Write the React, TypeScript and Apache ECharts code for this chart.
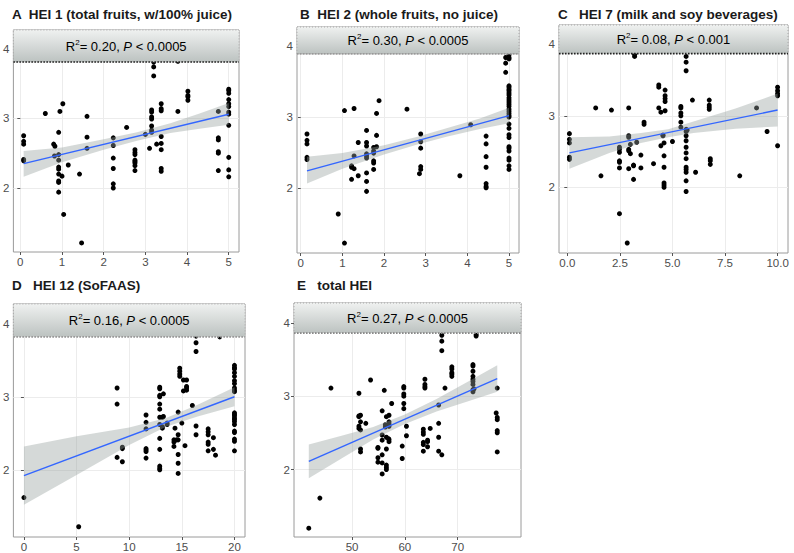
import React, { useEffect, useRef } from 'react';
import * as echarts from 'echarts';

const FONT = '"Liberation Sans", Arial, Helvetica, sans-serif';

// ---------- Panel A: HEI 1 ----------
const hei1Points: number[][] = [
  [0.08, 2.75], [0.08, 2.67], [0.08, 2.63], [0.08, 2.41], [0.08, 2.39],
  [0.6, 3.07],
  [0.8, 2.63], [0.83, 2.6], [0.82, 2.46],
  [0.92, 2.8], [0.92, 2.48], [0.92, 2.4], [0.92, 2.3], [0.92, 2.27], [0.92, 2.2], [0.92, 2.1], [0.92, 2.08], [0.92, 1.94],
  [0.95, 3.1],
  [1.02, 3.21], [1.0, 2.17], [1.04, 1.62],
  [1.15, 2.33], [1.42, 2.2], [1.47, 1.21],
  [1.6, 3.03], [1.6, 2.73], [1.6, 2.57],
  [2.23, 2.72], [2.23, 2.61], [2.23, 2.43], [2.23, 2.28], [2.23, 2.06], [2.23, 2.0],
  [2.55, 2.87],
  [2.75, 2.55], [2.75, 2.51], [2.75, 2.48], [2.75, 2.4], [2.75, 2.38], [2.75, 2.36], [2.75, 2.32], [2.75, 2.25],
  [3.0, 2.77], [3.1, 2.57],
  [3.15, 3.12], [3.15, 3.09], [3.15, 3.02], [3.15, 2.99], [3.15, 2.89], [3.15, 2.83], [3.15, 2.8],
  [3.2, 3.81], [3.2, 3.74], [3.2, 3.61],
  [3.27, 2.63],
  [3.38, 3.21], [3.38, 3.14], [3.38, 3.11], [3.38, 2.74], [3.38, 2.64], [3.38, 2.55], [3.38, 2.28], [3.38, 2.24],
  [3.78, 3.1], [3.78, 3.82],
  [4.02, 3.39], [4.02, 3.33], [4.02, 3.31], [4.02, 3.26],
  [4.75, 3.1], [4.75, 2.72], [4.75, 2.69], [4.75, 2.52], [4.75, 2.5], [4.75, 2.25],
  [5, 3.42], [5, 3.4], [5, 3.36], [5, 3.27], [5, 3.21], [5, 3.17], [5, 3.09], [5, 3.06], [5, 2.9], [5, 2.44], [5, 2.26], [5, 2.16],
];
const hei1FitX = [0.08, 5];
const hei1FitY = [2.35, 3.06];
const hei1BandX = [0.08, 1, 2, 2.8, 3.6, 4.3, 5];
const hei1BandHi = [2.53, 2.58, 2.7, 2.8, 2.93, 3.07, 3.22];
const hei1BandLo = [2.16, 2.37, 2.55, 2.68, 2.79, 2.85, 2.91];
const hei1Ticks = [0, 1, 2, 3, 4, 5];

// ---------- Panel B: HEI 2 ----------
const hei2Points: number[][] = [
  [0.15, 2.76], [0.15, 2.67], [0.15, 2.62], [0.15, 2.43], [0.15, 2.4],
  [0.9, 1.63], [1.05, 3.09], [1.05, 1.22],
  [1.22, 2.31], [1.22, 2.29], [1.22, 2.12],
  [1.28, 3.12], [1.28, 2.45], [1.28, 2.27],
  [1.38, 2.64], [1.38, 2.17],
  [1.58, 2.81], [1.58, 2.64], [1.58, 2.59], [1.58, 2.48], [1.58, 2.45], [1.58, 2.42], [1.58, 2.21], [1.58, 2.09], [1.58, 1.95],
  [1.75, 2.57], [1.75, 2.52], [1.75, 2.49], [1.75, 2.38], [1.75, 2.35], [1.75, 2.26],
  [1.82, 3.05], [1.82, 2.74], [1.82, 2.58],
  [1.88, 3.23], [2.55, 3.11], [2.85, 2.2],
  [2.88, 2.76], [2.88, 2.65], [2.88, 2.56], [2.88, 2.3], [2.88, 2.26],
  [3.82, 2.17], [4.08, 2.89],
  [4.45, 2.73], [4.45, 2.62], [4.45, 2.44], [4.45, 2.29], [4.45, 2.06], [4.45, 2.02], [4.45, 2.0],
  [4.92, 3.84], [4.92, 3.76], [4.92, 3.63],
  [5, 3.88], [5, 3.84], [5, 3.82], [5, 3.44], [5, 3.42], [5, 3.39], [5, 3.37], [5, 3.34], [5, 3.31], [5, 3.27],
  [5, 3.24], [5, 3.21], [5, 3.18], [5, 3.15], [5, 3.11], [5, 3.08], [5, 3.05], [5, 3.02], [5, 3.0], [5, 2.9],
  [5, 2.84], [5, 2.75], [5, 2.71], [5, 2.58], [5, 2.56], [5, 2.52], [5, 2.42], [5, 2.39], [5, 2.31], [5, 2.26],
];
const hei2FitX = [0.15, 5];
const hei2FitY = [2.24, 3.02];
const hei2BandX = [0.15, 1, 2, 2.8, 3.5, 4.3, 5];
const hei2BandHi = [2.44, 2.49, 2.6, 2.72, 2.84, 2.98, 3.13];
const hei2BandLo = [2.06, 2.27, 2.47, 2.61, 2.72, 2.83, 2.91];
const hei2Ticks = [0, 1, 2, 3, 4, 5];

// ---------- Panel C: HEI 7 ----------
const hei7Points: number[][] = [
  [0.1, 2.75], [0.1, 2.67], [0.1, 2.62], [0.1, 2.42], [0.1, 2.39],
  [1.35, 3.11], [1.6, 2.16], [2.1, 3.08],
  [2.48, 2.56], [2.48, 2.53], [2.48, 2.49], [2.48, 2.37], [2.48, 2.35], [2.48, 2.27], [2.48, 1.63],
  [2.85, 1.22],
  [2.92, 3.11], [2.92, 2.72], [2.92, 2.7], [2.92, 2.53], [2.92, 2.51], [2.92, 2.26],
  [3.0, 2.6], [3.0, 2.47],
  [3.15, 2.31], [3.15, 2.3], [3.15, 2.11],
  [3.2, 3.86], [3.2, 3.83], [3.3, 2.63],
  [3.5, 2.45], [3.5, 2.27], [3.65, 2.91], [3.65, 2.88],
  [4.1, 2.33],
  [4.35, 3.43], [4.35, 3.4], [4.35, 3.11],
  [4.45, 3.05], [4.45, 2.58], [4.55, 2.73], [4.55, 2.72],
  [4.6, 2.62], [4.6, 2.44], [4.6, 2.28], [4.6, 2.06], [4.6, 2.03], [4.6, 2.0],
  [4.65, 3.36], [4.65, 3.28], [4.65, 3.24], [4.65, 3.2], [4.65, 3.07],
  [5.0, 2.64],
  [5.4, 3.13], [5.4, 3.11], [5.4, 3.04], [5.4, 3.0], [5.4, 2.91], [5.4, 2.84],
  [5.65, 3.83], [5.65, 3.75], [5.65, 3.63], [5.65, 2.81], [5.65, 2.78], [5.65, 2.72], [5.65, 2.65], [5.65, 2.56],
  [5.65, 2.48], [5.65, 2.4], [5.65, 2.28], [5.65, 2.25], [5.65, 2.21], [5.65, 2.09], [5.65, 1.94],
  [5.7, 2.8], [5.95, 3.22], [6.1, 2.21],
  [6.75, 3.22], [6.75, 3.15], [6.75, 3.12], [6.75, 3.09],
  [6.8, 2.4], [6.8, 2.37], [6.8, 2.32],
  [8.2, 2.16], [9.0, 3.11], [9.5, 2.78],
  [10, 3.4], [10, 3.35], [10, 3.31], [10, 3.28], [10, 2.58],
];
const hei7FitX = [0.1, 10];
const hei7FitY = [2.48, 3.08];
const hei7BandX = [0.1, 2, 3.5, 4.8, 6, 8, 10];
const hei7BandHi = [2.7, 2.71, 2.76, 2.81, 2.92, 3.1, 3.31];
const hei7BandLo = [2.26, 2.48, 2.62, 2.7, 2.76, 2.82, 2.85];
const hei7Ticks = [0, 2.5, 5, 7.5, 10];

// ---------- Panel D: HEI 12 ----------
const hei12Points: number[][] = [
  [0, 1.62], [5.2, 1.22],
  [8.85, 3.12], [8.85, 2.9], [8.85, 2.17],
  [9.35, 2.31], [9.35, 2.29], [9.35, 2.11],
  [11.6, 2.75], [11.6, 2.65], [11.6, 2.56], [11.6, 2.29], [11.6, 2.27], [11.6, 2.25], [11.6, 2.16],
  [12.9, 3.13], [12.9, 3.11], [12.9, 3.02], [12.9, 3.0], [12.9, 2.9], [12.9, 2.83], [12.9, 2.72], [12.9, 2.62],
  [12.9, 2.43], [12.9, 2.28], [12.9, 2.05], [12.9, 2.02], [12.9, 2.0],
  [13.15, 2.72], [13.15, 2.59], [13.15, 2.57], [13.25, 3.04], [13.25, 2.73],
  [13.6, 2.64], [13.6, 2.62],
  [14.25, 2.41], [14.25, 2.38], [14.25, 2.32], [14.35, 2.57], [14.5, 2.41],
  [14.65, 2.79], [14.65, 2.48], [14.65, 2.41], [14.65, 2.21], [14.65, 2.09], [14.65, 1.95],
  [14.8, 3.39], [14.8, 3.35], [14.8, 3.31], [14.8, 3.28],
  [15.0, 2.64], [15.15, 3.08], [15.15, 3.23], [15.3, 2.33],
  [15.45, 3.23], [15.45, 3.14], [15.45, 3.12], [15.45, 3.09],
  [16.0, 2.88],
  [16.35, 3.83], [16.35, 3.74], [16.35, 3.62], [16.35, 2.6], [16.35, 2.48],
  [17.5, 2.56], [17.5, 2.52], [17.5, 2.48], [17.5, 2.38], [17.5, 2.35], [17.5, 2.26],
  [18.0, 2.44], [18.0, 2.28], [18.2, 2.2],
  [18.6, 3.86], [18.6, 3.82],
  [20, 3.43], [20, 3.4], [20, 3.38], [20, 3.33], [20, 3.28], [20, 3.22], [20, 3.18], [20, 3.12], [20, 3.09], [20, 3.07],
  [20, 2.78], [20, 2.76], [20, 2.74], [20, 2.71], [20, 2.69], [20, 2.66], [20, 2.62], [20, 2.53], [20, 2.51],
  [20, 2.42], [20, 2.39], [20, 2.26],
];
const hei12FitX = [0, 20];
const hei12FitY = [1.92, 3.0];
const hei12BandX = [0, 5, 10, 13.5, 16.5, 20];
const hei12BandHi = [2.32, 2.46, 2.58, 2.71, 2.89, 3.13];
const hei12BandLo = [1.52, 1.93, 2.34, 2.59, 2.73, 2.87];
const hei12Ticks = [0, 5, 10, 15, 20];

// ---------- Panel E: total HEI ----------
const totalPoints: number[][] = [
  [41.8, 1.2], [43.9, 1.61], [46.0, 3.11],
  [51.3, 3.04], [51.3, 2.73], [51.3, 2.72], [51.3, 2.59], [51.3, 2.56],
  [51.6, 2.74], [51.6, 2.65], [51.6, 2.54], [51.6, 2.28], [51.6, 2.24],
  [52.6, 2.63], [53.5, 3.22],
  [54.9, 2.3], [54.9, 2.29], [54.9, 2.16], [54.9, 2.1],
  [55.7, 2.8], [55.7, 2.47], [55.7, 2.4], [55.7, 2.2], [55.7, 2.09], [55.7, 1.94],
  [56.1, 3.08], [56.3, 2.61], [56.3, 2.58],
  [56.5, 2.72], [56.5, 2.44], [56.5, 2.28], [56.5, 2.06], [56.5, 2.03], [56.5, 2.0],
  [56.9, 2.42],
  [57.0, 2.74], [57.0, 2.65], [57.0, 2.62], [57.0, 2.59], [57.0, 2.41], [57.0, 2.38],
  [57.5, 2.9],
  [59.5, 2.32], [59.5, 2.15],
  [59.8, 3.13], [59.8, 3.11], [59.8, 3.03], [59.8, 3.0], [59.8, 2.9], [59.8, 2.83],
  [60.3, 2.59], [60.3, 2.46],
  [63.5, 2.55], [63.5, 2.51], [63.5, 2.48], [63.5, 2.37], [63.5, 2.34], [63.5, 2.25],
  [63.8, 3.23], [63.8, 3.16], [63.8, 3.13], [63.8, 3.11],
  [64.3, 2.4], [64.3, 2.38], [64.3, 2.31], [64.8, 2.56],
  [66.4, 2.88], [66.4, 2.63], [66.4, 2.44], [66.4, 2.25],
  [67.0, 3.83], [67.0, 3.75], [67.0, 3.62], [67.0, 2.2],
  [67.6, 3.11],
  [68.9, 3.4], [68.9, 3.37], [68.9, 3.32], [68.9, 3.3], [68.9, 3.27],
  [72.9, 3.43], [72.9, 3.41], [72.9, 3.34], [72.9, 3.27], [72.9, 3.23], [72.9, 3.2], [72.9, 3.16], [72.9, 3.09], [72.9, 3.06],
  [73.1, 3.1], [73.5, 3.87], [73.5, 3.84], [73.5, 3.82],
  [77.3, 2.77],
  [77.5, 3.11], [77.5, 2.71], [77.5, 2.68], [77.5, 2.53], [77.5, 2.5], [77.5, 2.24],
];
const totalFitX = [41.8, 77.5];
const totalFitY = [2.11, 3.24];
const totalBandX = [41.8, 48, 54, 60, 66, 72, 77.5];
const totalBandHi = [2.34, 2.46, 2.58, 2.75, 2.96, 3.2, 3.42];
const totalBandLo = [1.88, 2.15, 2.41, 2.62, 2.79, 2.93, 3.06];
const totalTicks = [50, 60, 70];

const yTicks = [2, 3, 4];
const yMin = 1.08;
const yMax = 4.27;

const panels = [
  {
    title: 'A  HEI 1 (total fruits, w/100% juice)', r2: '0.20', p: '0.0005',
    points: hei1Points, fitX: hei1FitX, fitY: hei1FitY, bandX: hei1BandX, bandHi: hei1BandHi, bandLo: hei1BandLo,
    ticks: hei1Ticks, digits: 0, xMin: -0.166, xMax: 5.246, boxBottom: 3.81, boxLine: '#222',
    grid: { left: 12, top: 30, width: 227, height: 222 }, tLeft: 12, tTop: 7,
  },
  {
    title: 'B  HEI 2 (whole fruits, no juice)', r2: '0.30', p: '0.0005',
    points: hei2Points, fitX: hei2FitX, fitY: hei2FitY, bandX: hei2BandX, bandHi: hei2BandHi, bandLo: hei2BandLo,
    ticks: hei2Ticks, digits: 0, xMin: -0.09, xMax: 5.24, boxBottom: 3.89, boxLine: '#999',
    grid: { left: 297, top: 27, width: 222, height: 226 }, tLeft: 300, tTop: 7,
  },
  {
    title: 'C   HEI 7 (milk and soy beverages)', r2: '0.08', p: '0.001',
    points: hei7Points, fitX: hei7FitX, fitY: hei7FitY, bandX: hei7BandX, bandHi: hei7BandHi, bandLo: hei7BandLo,
    ticks: hei7Ticks, digits: 1, xMin: -0.395, xMax: 10.495, boxBottom: 3.87, boxLine: '#222',
    grid: { left: 559, top: 25, width: 229, height: 228 }, tLeft: 558, tTop: 7,
  },
  {
    title: 'D   HEI 12 (SoFAAS)', r2: '0.16', p: '0.0005',
    points: hei12Points, fitX: hei12FitX, fitY: hei12FitY, bandX: hei12BandX, bandHi: hei12BandHi, bandLo: hei12BandLo,
    ticks: hei12Ticks, digits: 0, xMin: -1, xMax: 21, boxBottom: 3.82, boxLine: '#999',
    grid: { left: 12, top: 304, width: 233, height: 234 }, tLeft: 12, tTop: 278,
  },
  {
    title: 'E   total HEI', r2: '0.27', p: '0.0005',
    points: totalPoints, fitX: totalFitX, fitY: totalFitY, bandX: totalBandX, bandHi: totalBandHi, bandLo: totalBandLo,
    ticks: totalTicks, digits: 0, xMin: 39, xMax: 82, boxBottom: 3.86, boxLine: '#888',
    grid: { left: 294, top: 303, width: 227, height: 235 }, tLeft: 297, tTop: 278,
  },
];

function buildOption() {
  const series: any[] = [];
  panels.forEach((p, i) => {
    series.push({
      type: 'scatter', xAxisIndex: i, yAxisIndex: i, data: p.points, symbolSize: 5,
      itemStyle: { color: '#000000', opacity: 1 }, z: 2, silent: true,
    });
    series.push({
      type: 'custom', xAxisIndex: i, yAxisIndex: i, z: 3, silent: true,
      data: [[p.fitX[0], p.fitY[0]]],
      renderItem: (_params: any, api: any) => {
        const pts: number[][] = [];
        for (let j = 0; j < p.bandX.length; j++) pts.push(api.coord([p.bandX[j], p.bandHi[j]]));
        for (let j = p.bandX.length - 1; j >= 0; j--) pts.push(api.coord([p.bandX[j], p.bandLo[j]]));
        return { type: 'polygon', shape: { points: pts }, style: { fill: 'rgba(150,160,157,0.4)' } };
      },
    });
    series.push({
      type: 'line', xAxisIndex: i, yAxisIndex: i, z: 4, silent: true, showSymbol: false, symbol: 'none',
      data: p.fitX.map((x, j) => [x, p.fitY[j]]),
      lineStyle: { color: '#3366FF', width: 1.4 },
    });
    series.push({
      type: 'custom', xAxisIndex: i, yAxisIndex: i, z: 10, silent: true,
      data: [[p.xMin, p.boxBottom]],
      renderItem: (_params: any, api: any) => {
        const tl = api.coord([p.xMin, yMax]);
        const br = api.coord([p.xMax, p.boxBottom]);
        const w = br[0] - tl[0];
        const h = br[1] - tl[1];
        return {
          type: 'group',
          children: [
            {
              type: 'rect', shape: { x: tl[0], y: tl[1], width: w, height: h },
              style: {
                fill: new echarts.graphic.LinearGradient(0, 0, 0, 1, [
                  { offset: 0, color: '#eff1f0' },
                  { offset: 1, color: '#bcc2c0' },
                ]),
                stroke: '#a8a8a8', lineWidth: 1, lineDash: [1, 2],
              },
            },
            {
              type: 'line', shape: { x1: tl[0], y1: br[1], x2: br[0], y2: br[1] },
              style: { stroke: p.boxLine, lineWidth: 1.6, lineDash: [1.6, 1.4] },
            },
            {
              type: 'text', x: tl[0] + w / 2, y: tl[1] + h / 2,
              style: {
                text: `{r|R}{s|2}{r|= ${p.r2}, }{i|P}{r| < ${p.p}}`,
                align: 'center', verticalAlign: 'middle',
                rich: {
                  r: { fontFamily: FONT, fontSize: 13, color: '#333333', lineHeight: 16 },
                  s: { fontFamily: FONT, fontSize: 8, color: '#333333', lineHeight: 8, verticalAlign: 'top' },
                  i: { fontFamily: FONT, fontSize: 13, color: '#333333', fontStyle: 'italic', lineHeight: 16 },
                },
              },
            },
          ],
        };
      },
    });
  });

  return {
    animation: false,
    title: panels.map((p) => ({
      text: p.title, left: p.tLeft, top: p.tTop, padding: 0,
      textStyle: { fontFamily: FONT, fontSize: 13.5, fontWeight: 'bold', color: '#1a1a1a' },
    })),
    grid: panels.map((p) => ({ ...p.grid, show: true, borderColor: '#9a9a9a', borderWidth: 1, backgroundColor: '#ffffff' })),
    xAxis: panels.map((p, i) => ({
      type: 'value', gridIndex: i, min: p.xMin, max: p.xMax,
      axisLine: { show: false },
      axisTick: { show: true, length: 3, lineStyle: { color: '#555555' }, customValues: p.ticks },
      axisLabel: {
        customValues: p.ticks, formatter: (v: number) => v.toFixed(p.digits),
        color: '#4d4d4d', fontSize: 11.5, fontFamily: FONT, margin: 4,
      },
      splitLine: { show: true, lineStyle: { color: '#ececec', width: 1 } },
    })),
    yAxis: panels.map((_p, i) => ({
      type: 'value', gridIndex: i, min: yMin, max: yMax,
      axisLine: { show: false },
      axisTick: { show: true, length: 3, lineStyle: { color: '#555555' }, customValues: yTicks },
      axisLabel: {
        customValues: yTicks, formatter: (v: number) => String(v),
        color: '#4d4d4d', fontSize: 11.5, fontFamily: FONT, margin: 4,
      },
      splitLine: { show: true, lineStyle: { color: '#ececec', width: 1 } },
    })),
    series,
  };
}

export default function App() {
  const ref = useRef<HTMLDivElement>(null);
  useEffect(() => {
    if (!ref.current) return;
    const chart = echarts.init(ref.current, null, { renderer: 'svg' });
    chart.setOption(buildOption() as any);
    return () => chart.dispose();
  }, []);
  return (
    <div
      ref={ref}
      style={{ position: 'absolute', left: 0, top: 0, width: 794, height: 553, background: '#ffffff' }}
    />
  );
}
